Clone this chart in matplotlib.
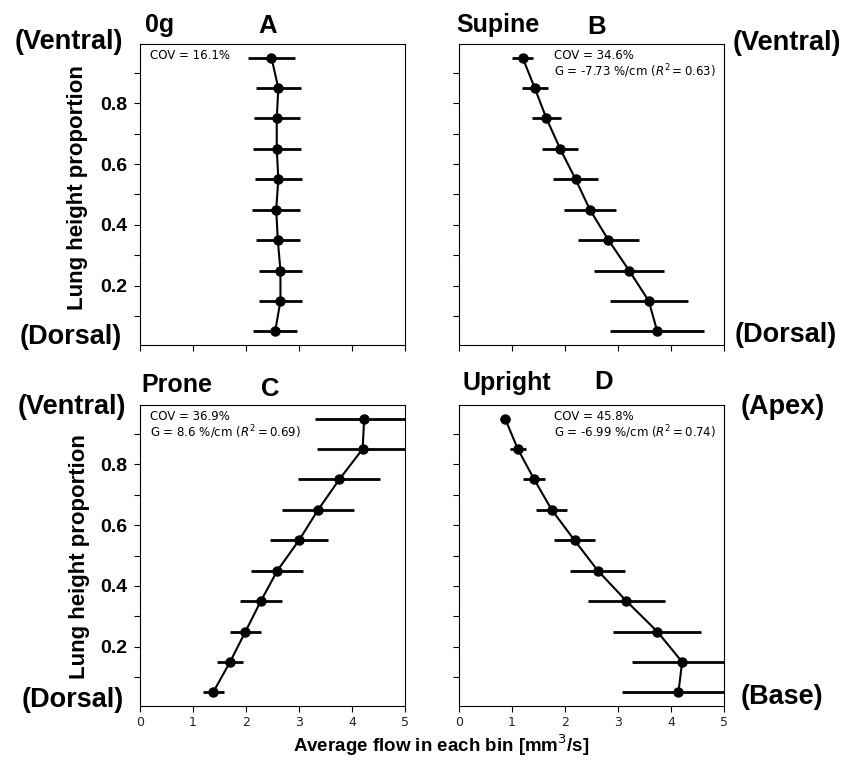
import matplotlib
matplotlib.use('Agg')
import matplotlib.pyplot as plt
import numpy as np

# bin centres (lung height proportion)
altura = [0.05, 0.15, 0.25, 0.35, 0.45, 0.55, 0.65, 0.75, 0.85, 0.95]

# panel A - 0g
flujo_0g = [2.55, 2.65, 2.65, 2.60, 2.57, 2.61, 2.58, 2.58, 2.61, 2.48]
err_0g = [0.42, 0.40, 0.41, 0.42, 0.45, 0.44, 0.45, 0.43, 0.43, 0.45]

# panel B - supine
flujo_supino = [3.74, 3.58, 3.21, 2.82, 2.47, 2.20, 1.91, 1.65, 1.43, 1.20]
err_supino = [0.89, 0.74, 0.66, 0.57, 0.49, 0.42, 0.34, 0.27, 0.24, 0.20]

# panel C - prone
flujo_prono = [1.38, 1.70, 1.99, 2.28, 2.59, 3.00, 3.36, 3.76, 4.20, 4.23]
err_prono = [0.20, 0.24, 0.30, 0.39, 0.49, 0.55, 0.68, 0.77, 0.86, 0.92]

# panel D - upright
flujo_erguido = [4.14, 4.21, 3.74, 3.16, 2.62, 2.18, 1.75, 1.42, 1.11, 0.87]
err_erguido = [1.07, 0.94, 0.83, 0.72, 0.52, 0.39, 0.29, 0.21, 0.15, 0.10]

textos = ['COV = 16.1%',
          'COV = 34.6%\nG = -7.73 %/cm ($R^2=0.63$)',
          'COV = 36.9%\nG = 8.6 %/cm ($R^2=0.69$)',
          'COV = 45.8%\nG = -6.99 %/cm ($R^2=0.74$)']

W, H = 843, 761
fig = plt.figure(figsize=(W / 100, H / 100), dpi=100)

def rect(x0, y0, x1, y1):
    return [x0 / W, 1 - y1 / H, (x1 - x0) / W, (y1 - y0) / H]

posiciones = [rect(140, 44, 405, 345), rect(459, 44, 724, 345),
              rect(140, 405, 405, 706), rect(459, 405, 724, 706)]
datos = [(flujo_0g, err_0g), (flujo_supino, err_supino),
         (flujo_prono, err_prono), (flujo_erguido, err_erguido)]
texto_x = [0.038, 0.358, 0.038, 0.358]

negrita = dict(family='Liberation Sans', fontweight='bold')

for i in range(4):
    ax = fig.add_axes(posiciones[i])
    x, e = datos[i]
    ax.errorbar(x, altura, xerr=e, color='k', marker='o', markersize=6.5,
                linewidth=1.5, elinewidth=2, capsize=0)
    ax.set_xlim(0, 5)
    ax.set_ylim(0.005, 0.995)
    ax.set_xticks([0, 1, 2, 3, 4, 5])
    ax.set_yticks(np.arange(0.1, 1.0, 0.1))
    ax.tick_params(direction='out', length=4, width=0.8)
    for s in ax.spines.values():
        s.set_linewidth(0.8)
    if i in (0, 2):
        ax.set_yticklabels(['', '0.2', '', '0.4', '', '0.6', '', '0.8', ''],
                           fontsize=14, **negrita)
        ax.tick_params(axis='y', pad=5)
    else:
        ax.set_yticklabels([])
    if i in (2, 3):
        ax.tick_params(axis='x', labelsize=9, labelcolor='#222222')
    else:
        ax.set_xticklabels([])
    ax.text(texto_x[i], 0.985, textos[i], transform=ax.transAxes,
            fontsize=8.5, va='top', ha='left', linespacing=1.1)

# titulos de cada panel
def ftext(x, y, s, size, **kw):
    fig.text(x / W, 1 - y / H, s, fontsize=size, va='center', **negrita, **kw)

ftext(145, 25, '0g', 18, ha='left')
ftext(268, 26, 'A', 18.5, ha='center')
ftext(456, 25, 'Supine', 18, ha='left')
ftext(597, 27, 'B', 18.5, ha='center')
ftext(141, 385, 'Prone', 18, ha='left')
ftext(270, 389, 'C', 18.5, ha='center')
ftext(462, 383, 'Upright', 18, ha='left')
ftext(604, 382, 'D', 18.5, ha='center')

# orientacion
ftext(123, 42, '(Ventral)', 19.5, ha='right')
ftext(122, 337, '(Dorsal)', 19.5, ha='right')
ftext(126, 407, '(Ventral)', 19.5, ha='right')
ftext(124, 700, '(Dorsal)', 19.5, ha='right')
ftext(733, 43, '(Ventral)', 19.5, ha='left')
ftext(735, 335, '(Dorsal)', 19.5, ha='left')
ftext(741, 407, '(Apex)', 19.5, ha='left')
ftext(741, 697, '(Base)', 19.5, ha='left')

# etiquetas de ejes
fig.text(78 / W, 1 - 187.5 / H, 'Lung height proportion', rotation=90,
         fontsize=16, ha='center', va='center', **negrita)
fig.text(80 / W, 1 - 557 / H, 'Lung height proportion', rotation=90,
         fontsize=16, ha='center', va='center', **negrita)
fig.text(441 / W, 1 - 745 / H, r'Average flow in each bin [mm$^{3}$/s]',
         fontsize=13.5, ha='center', va='center', **negrita)

fig.savefig('out.png', dpi=100)
